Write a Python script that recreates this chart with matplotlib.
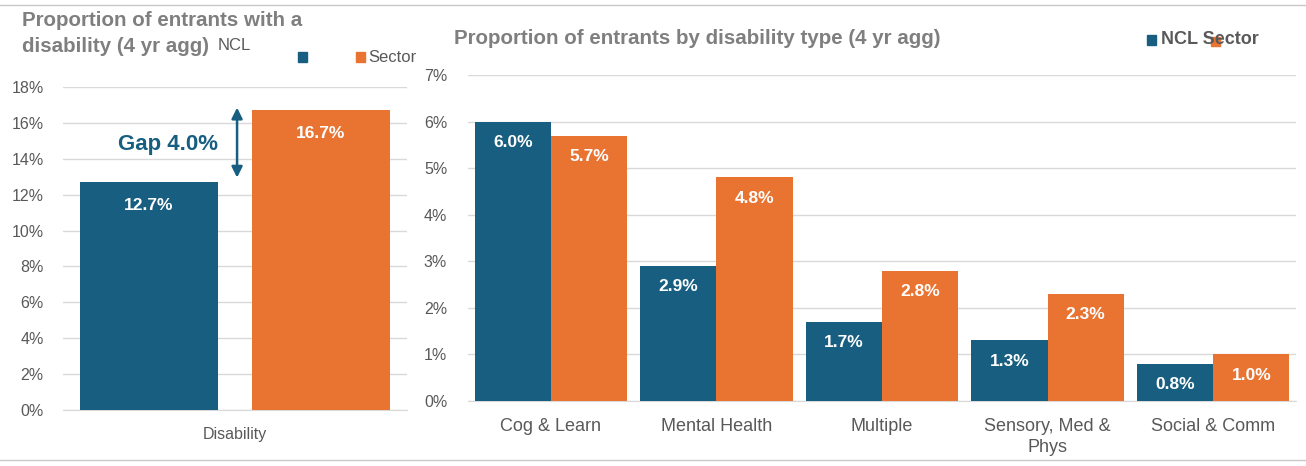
import matplotlib
matplotlib.use("Agg")
import matplotlib.pyplot as plt
import numpy as np

plt.rcParams['font.family'] = ['Liberation Sans', 'DejaVu Sans']

# Data
left_category = ["Disability"]
left_ncl = [12.7]
left_sector = [16.7]
gap_value = 4.0

right_categories = ["Cog & Learn", "Mental Health", "Multiple", "Sensory, Med &\nPhys", "Social & Comm"]
right_ncl = [6.0, 2.9, 1.7, 1.3, 0.8]
right_sector = [5.7, 4.8, 2.8, 2.3, 1.0]

left_ticks = [0, 2, 4, 6, 8, 10, 12, 14, 16, 18]
right_ticks = [0, 1, 2, 3, 4, 5, 6, 7]

BLUE = "#175E80"
ORANGE = "#E97432"
GRID = "#D9D9D9"
TICK = "#595959"
TITLE = "#7F7F7F"

W, H = 1306, 466
fig = plt.figure(figsize=(W / 100, H / 100), dpi=100)

def ax_rect(x0, x1, ytop, ybot):
    return [x0 / W, 1 - ybot / H, (x1 - x0) / W, (ybot - ytop) / H]

# Left axes
axl = fig.add_axes(ax_rect(63, 407, 87, 410))
axl.set_xlim(-0.5, 0.5)
axl.set_ylim(0, 18)
bw = 0.4
axl.bar([-0.25], left_ncl, width=bw, color=BLUE, zorder=3)
axl.bar([0.25], left_sector, width=bw, color=ORANGE, zorder=3)
for v, x in zip(left_ncl, [-0.25]):
    axl.text(x, v - 1.3, f"{v:.1f}%", ha="center", va="center", color="white",
             fontsize=12.5, fontweight="bold", zorder=4)
for v, x in zip(left_sector, [0.25]):
    axl.text(x, v - 1.3, f"{v:.1f}%", ha="center", va="center", color="white",
             fontsize=12.5, fontweight="bold", zorder=4)
axl.set_yticks(left_ticks)
axl.set_yticklabels([f"{t}%" for t in left_ticks])
axl.set_xticks([0])
axl.set_xticklabels(left_category)
axl.grid(axis="y", color=GRID, linewidth=1, zorder=0)
for s in ["top", "right", "left"]:
    axl.spines[s].set_visible(False)
axl.spines["bottom"].set_color(GRID)
axl.tick_params(axis="both", length=0, colors=TICK, labelsize=11.5)
axl.tick_params(axis="y", pad=14)
axl.tick_params(axis="x", pad=12)
# Gap arrow
axl.annotate("", xy=(0.006, left_sector[0] + 0.15), xytext=(0.006, left_ncl[0] + 0.25),
             arrowprops=dict(arrowstyle="<|-|>", color=BLUE, lw=1.8,
                             mutation_scale=16, shrinkA=0, shrinkB=0), zorder=5)
axl.text(-0.05, (left_sector[0] + left_ncl[0]) / 2 + 0.1, f"Gap {gap_value:.1f}%",
         ha="right", va="center", color=BLUE, fontsize=16, fontweight="bold")

# Right axes
axr = fig.add_axes(ax_rect(468, 1296, 75, 401))
n = len(right_categories)
x = np.arange(n)
bw2 = 0.46
axr.bar(x - bw2 / 2, right_ncl, width=bw2, color=BLUE, zorder=3)
axr.bar(x + bw2 / 2, right_sector, width=bw2, color=ORANGE, zorder=3)
for xi, v in zip(x - bw2 / 2, right_ncl):
    axr.text(xi, v - 0.45, f"{v:.1f}%", ha="center", va="center", color="white",
             fontsize=12.5, fontweight="bold", zorder=4)
for xi, v in zip(x + bw2 / 2, right_sector):
    axr.text(xi, v - 0.45, f"{v:.1f}%", ha="center", va="center", color="white",
             fontsize=12.5, fontweight="bold", zorder=4)
axr.set_xlim(-0.5, n - 0.5)
axr.set_ylim(0, 7)
axr.set_yticks(right_ticks)
axr.set_yticklabels([f"{t}%" for t in right_ticks])
axr.set_xticks(x)
axr.set_xticklabels(right_categories, linespacing=1.3)
axr.grid(axis="y", color=GRID, linewidth=1, zorder=0)
for s in ["top", "right", "left"]:
    axr.spines[s].set_visible(False)
axr.spines["bottom"].set_color(GRID)
axr.tick_params(axis="both", length=0, colors=TICK, labelsize=13)
axr.tick_params(axis="y", labelsize=11.5, pad=15)
axr.tick_params(axis="x", pad=12)

# Titles
fig.text(22 / W, 1 - 20 / H, "Proportion of entrants with a", ha="left", va="center",
         color=TITLE, fontsize=14.8, fontweight="bold")
fig.text(22 / W, 1 - 46 / H, "disability (4 yr agg)", ha="left", va="center",
         color=TITLE, fontsize=14.8, fontweight="bold")
fig.text(218 / W, 1 - 46 / H, "NCL", ha="left", va="center", color=TICK, fontsize=12)
fig.text(454 / W, 1 - 38 / H, "Proportion of entrants by disability type (4 yr agg)",
         ha="left", va="center", color=TITLE, fontsize=14.8, fontweight="bold")

# Legends (manual)
def square(xc, yc, color, size=9):
    fig.patches.append(plt.Rectangle(((xc - size / 2) / W, 1 - (yc + size / 2) / H),
                                     size / W, size / H, transform=fig.transFigure,
                                     color=color, figure=fig))

square(302, 57, BLUE)
square(360, 57, ORANGE)
fig.text(368 / W, 1 - 57 / H, "Sector", ha="left", va="center", color=TICK, fontsize=12)
square(1151, 40, BLUE)
fig.text(1161 / W, 1 - 40 / H, "NCL Sector", ha="left", va="center", color=TICK,
         fontsize=13, fontweight="bold")
square(1215, 41, ORANGE)

# Frame lines
fig.add_artist(plt.Line2D([0, 1], [1 - 5 / H, 1 - 5 / H], transform=fig.transFigure,
                          color="#C8C8C8", lw=1))
fig.add_artist(plt.Line2D([0, 1], [1 - 460 / H, 1 - 460 / H], transform=fig.transFigure,
                          color="#C8C8C8", lw=1))

fig.savefig("out.png", dpi=100)
